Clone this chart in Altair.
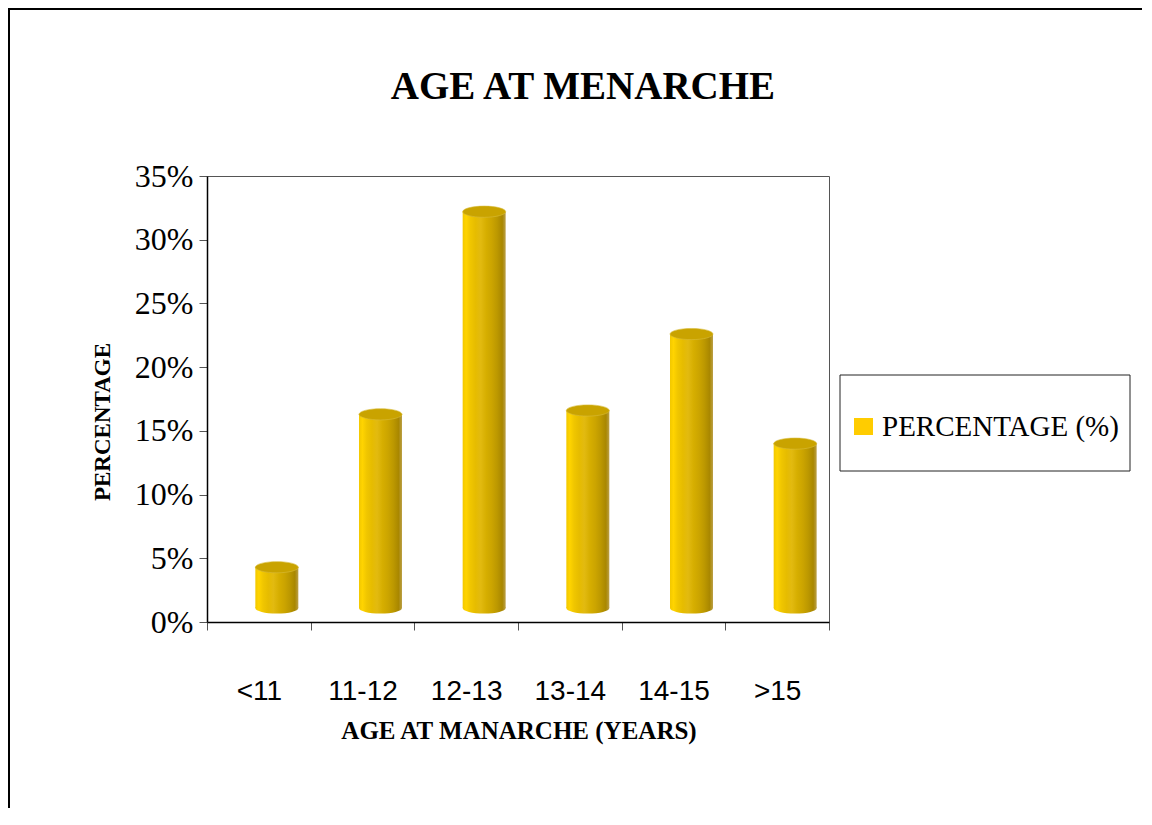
import altair as alt
import pandas as pd

# ---- data ----
categories = ["<11", "11-12", "12-13", "13-14", "14-15", ">15"]
percentages = [0.032, 0.152, 0.311, 0.155, 0.215, 0.129]
y_ticks = [0, 0.05, 0.10, 0.15, 0.20, 0.25, 0.30, 0.35]
title_text = "AGE AT MENARCHE"
x_title = "AGE AT MANARCHE (YEARS)"
y_title = "PERCENTAGE"
legend_label = "PERCENTAGE (%)"

df = pd.DataFrame({"age": categories, "pct": percentages})

# ---- layout ----
W, H = 622, 446
PAD_L, PAD_T = 199, 168
TOTAL_W, TOTAL_H = 1134, 800
PAD_R = TOTAL_W - PAD_L - W
PAD_B = TOTAL_H - PAD_T - H

DX, DY = 18, -14          # 3-D front-plane shift
BAR_W = 43
ELLIPSE = "M-1,0A1,0.26,0,1,1,1,0A1,0.26,0,1,1,-1,0Z"

side = alt.Gradient(
    gradient="linear", x1=0, x2=1, y1=0, y2=0,
    stops=[
        alt.GradientStop(offset=0.0, color="#F2C800"),
        alt.GradientStop(offset=0.08, color="#FFD400"),
        alt.GradientStop(offset=0.18, color="#F0C600"),
        alt.GradientStop(offset=0.30, color="#E6BC00"),
        alt.GradientStop(offset=0.42, color="#E2BA10"),
        alt.GradientStop(offset=0.55, color="#D6AE00"),
        alt.GradientStop(offset=0.68, color="#CBA400"),
        alt.GradientStop(offset=0.80, color="#BC9800"),
        alt.GradientStop(offset=0.92, color="#A98700"),
        alt.GradientStop(offset=1.0, color="#BBA048"),
    ],
)

xscale = alt.Scale(domain=categories, paddingInner=0, paddingOuter=0)
yscale = alt.Scale(domain=[0, 0.35], nice=False, zero=True)

x_axis = alt.Axis(
    title=None, labelFont="Liberation Sans", labelFontSize=28, labelColor="#000",
    labelAngle=0, labelBaseline="alphabetic", labelPadding=69,
    tickBand="extent", tickSize=8, tickColor="#555", domainColor="#000",
    domainWidth=1.5, grid=False, labelFlush=False, labelOverlap=False,
)
y_axis = alt.Axis(
    title=None, values=y_ticks, format=".0%", labelFont="Liberation Serif",
    labelFontSize=32, labelColor="#000", labelPadding=6, tickSize=8,
    tickColor="#555", domainColor="#000", domainWidth=1.5, grid=False,
    labelFlush=False, labelOverlap=False,
)

X = alt.X("age:N", scale=xscale, sort=categories, axis=x_axis)

base = alt.Chart(df).transform_calculate(zero="0")

bottom_cap = base.mark_point(
    shape=ELLIPSE, size=BAR_W * BAR_W, filled=True, fill=side, opacity=1,
    strokeWidth=0, xOffset=DX, yOffset=DY,
).encode(x=X, y=alt.Y("zero:Q", scale=yscale, axis=y_axis))

body = base.mark_bar(
    width=BAR_W, fill=side, xOffset=DX, yOffset=DY, y2Offset=DY,
).encode(
    x=X,
    y=alt.Y("pct:Q", scale=yscale, axis=y_axis),
    y2="zero:Q",
)

top_cap = base.mark_point(
    shape=ELLIPSE, size=BAR_W * BAR_W, filled=True, fill="#C9A300",
    opacity=1, stroke="#D9BC3A", strokeWidth=0.6, xOffset=DX, yOffset=DY,
).encode(x=X, y=alt.Y("pct:Q", scale=yscale, axis=y_axis))

one = pd.DataFrame({"t": [0]})

# outer frame (its right and bottom edges lie past the page)
frame = alt.Chart(one).mark_rect(fill=None, fillOpacity=0, stroke="#000", strokeWidth=2).encode(
    x=alt.value(-PAD_L + 1), x2=alt.value(W + PAD_R + 60),
    y=alt.value(-PAD_T + 1), y2=alt.value(H + PAD_B + 60),
)

title = alt.Chart(pd.DataFrame({"t": [title_text]})).mark_text(
    font="Liberation Serif", fontSize=39, fontWeight="bold", color="#000",
    align="center", baseline="alphabetic",
).encode(x=alt.value(376), y=alt.value(-77), text="t:N")

xt = alt.Chart(pd.DataFrame({"t": [x_title]})).mark_text(
    font="Liberation Serif", fontSize=25, fontWeight="bold", color="#000",
    align="center", baseline="alphabetic",
).encode(x=alt.value(312), y=alt.value(563), text="t:N")

yt = alt.Chart(pd.DataFrame({"t": [y_title]})).mark_text(
    font="Liberation Serif", fontSize=23, fontWeight="bold", color="#000",
    align="center", baseline="middle", angle=270,
).encode(x=alt.value(-104), y=alt.value(246), text="t:N")

leg_box = alt.Chart(one).mark_rect(fill="#fff", stroke="#222", strokeWidth=1).encode(
    x=alt.value(633), x2=alt.value(923), y=alt.value(199), y2=alt.value(295)
)
leg_sym = alt.Chart(one).mark_rect(fill="#FFCC00").encode(
    x=alt.value(647), x2=alt.value(666), y=alt.value(242), y2=alt.value(259)
)
leg_txt = alt.Chart(pd.DataFrame({"t": [legend_label]})).mark_text(
    font="Liberation Serif", fontSize=29, color="#000", align="left",
    baseline="middle",
).encode(x=alt.value(675), y=alt.value(251), text="t:N")

chart = alt.layer(
    frame, bottom_cap, body, top_cap, title, xt, yt,
    leg_box, leg_sym, leg_txt,
).properties(
    width=W, height=H,
    autosize=alt.AutoSizeParams(type="none"),
    padding={"left": PAD_L, "top": PAD_T, "right": PAD_R, "bottom": PAD_B},
).configure_view(
    stroke="#555", strokeWidth=1
).configure_axisY(
    labelFont="Liberation Serif", labelFontSize=32
).configure_axisX(
    labelFont="Liberation Sans", labelFontSize=28
)

chart.save("out.html", embed_options={"renderer": "svg", "actions": False})
